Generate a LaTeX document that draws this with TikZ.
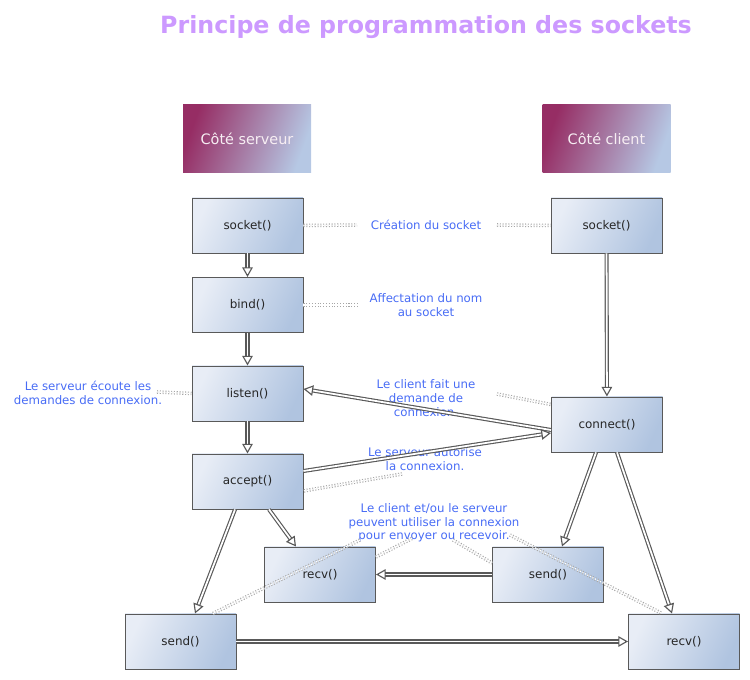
\documentclass[tikz,border=0pt]{standalone}
\usepackage{fontspec}
\setmainfont{DejaVu Sans}
\usetikzlibrary{arrows.meta,positioning,calc}
\definecolor{titlelilac}{RGB}{204,153,255}
\definecolor{noteblue}{RGB}{72,108,245}
\definecolor{hdrdark}{RGB}{150,45,100}
\definecolor{hdrlight}{RGB}{182,200,228}
\definecolor{boxlight}{RGB}{232,237,246}
\definecolor{boxdark}{RGB}{176,196,224}

\begin{document}
\begin{tikzpicture}[
  every node/.style={font=\fontsize{6.8}{8}\selectfont},
  hdr/.style={left color=hdrdark, right color=hdrlight, shading angle=70, minimum width=2.56cm, minimum height=1.36cm, text=white!92!hdrdark, font=\fontsize{8.2}{10}\selectfont},
  func/.style={draw=black!65, line width=0.55pt, left color=boxlight, right color=boxdark, shading angle=65, minimum width=2.22cm, minimum height=1.1cm, text=black!85},
  note/.style={text=noteblue, align=center, font=\fontsize{6.7}{7.8}\selectfont},
  flow/.style={draw=black!65, double=white, line width=0.65pt, double distance=1pt, -{Triangle[open, length=5.5pt, width=6pt]}},
  link/.style={draw=black!35, line width=0.6pt, double, double distance=0.8pt, densely dotted}
]
  \useasboundingbox (0,0) rectangle (15,13.6);

  % Title
  \node[font=\fontsize{13.5}{16}\selectfont\bfseries, text=titlelilac] (title) at (8.52, 13.06) {Principe de programmation des sockets};

  % Column headers
  \node[hdr] (hdrS) at (4.94, 10.82) {Côté serveur};
  \node[hdr] (hdrC) at (12.13, 10.82) {Côté client};

  % Server side calls
  \node[func] (sockS) at (4.95, 9.09) {socket()};
  \node[func] (bind) at (4.95, 7.5) {bind()};
  \node[func] (listen) at (4.95, 5.73) {listen()};
  \node[func] (accept) at (4.95, 3.97) {accept()};
  \node[func] (recvS) at (6.4, 2.11) {recv()};
  \node[func] (sendS) at (3.61, 0.77) {send()};

  % Client side calls
  \node[func] (sockC) at (12.13, 9.09) {socket()};
  \node[func] (connect) at (12.14, 5.11) {connect()};
  \node[func] (sendC) at (10.96, 2.11) {send()};
  \node[func] (recvC) at (13.68, 0.77) {recv()};

  % Comments
  \node[note] (nCreate) at (8.52, 9.1) {Création du socket};
  \node[note] (nBind) at (8.52, 7.5) {Affectation du nom\\au socket};
  \node[note] (nListen) at (1.76, 5.74) {Le serveur écoute les\\demandes de connexion.};
  \node[note] (nConnect) at (8.52, 5.64) {Le client fait une\\demande de\\connexion.};
  \node[note] (nAccept) at (8.5, 4.42) {Le serveur autorise\\la connexion.};
  \node[note] (nUse) at (8.68, 3.14) {Le client et/ou le serveur\\peuvent utiliser la connexion\\pour envoyer ou recevoir.};

  % Free ends of the comment links
  \coordinate (cCreL) at (7.14, 9.1);
  \coordinate (cCreR) at (9.94, 9.1);
  \coordinate (cBind) at (7.16, 7.5);
  \coordinate (cListen) at (3.14, 5.76);
  \coordinate (cConn) at (9.94, 5.72);
  \coordinate (cAcc) at (8.04, 4.12);
  \coordinate (cUseA) at (7.2, 2.8);
  \coordinate (cUseB) at (8.26, 2.84);
  \coordinate (cUseC) at (9.06, 2.8);
  \coordinate (cUseD) at (10.2, 2.9);

  % Comment links
  \draw[link] (sockS.east) -- (cCreL);
  \draw[link] (cCreR) -- (sockC.west);
  \draw[link] (bind.east) -- (cBind);
  \draw[link] (cListen) -- (listen.west);
  \draw[link] (cConn) -- ([yshift=-0.16cm]connect.north west);
  \draw[link] (cAcc) -- ([yshift=-0.19cm]accept.east);
  \draw[link] ([xshift=0.65cm]sendS.north) -- (cUseA);
  \draw[link] ([yshift=0.35cm]recvS.east) -- (cUseB);
  \draw[link] (cUseC) -- ([yshift=0.23cm]sendC.west);
  \draw[link] (cUseD) -- ([xshift=-0.44cm]recvC.north);

  % Server sequence
  \draw[flow] (sockS) -- (bind);
  \draw[flow] (bind) -- (listen);
  \draw[flow] (listen) -- (accept);
  \draw[flow] ([xshift=-0.25cm]accept.south) -- ([xshift=0.29cm]sendS.north);
  \draw[flow] ([xshift=0.43cm]accept.south) -- ([xshift=-0.48cm]recvS.north);

  % Client sequence
  \draw[flow] (sockC) -- (connect);
  \draw[flow] ([xshift=-0.22cm]connect.south) -- ([xshift=0.28cm]sendC.north);
  \draw[flow] ([xshift=0.2cm]connect.south) -- ([xshift=-0.24cm]recvC.north);

  % Exchanges between both sides
  \draw[flow] ([yshift=-0.11cm]connect.west) -- ([yshift=0.09cm]listen.east);
  \draw[flow] ([yshift=0.21cm]accept.east) -- ([yshift=-0.17cm]connect.west);
  \draw[flow] (sendC) -- (recvS);
  \draw[flow] (sendS) -- (recvC);

\end{tikzpicture}
\end{document}
